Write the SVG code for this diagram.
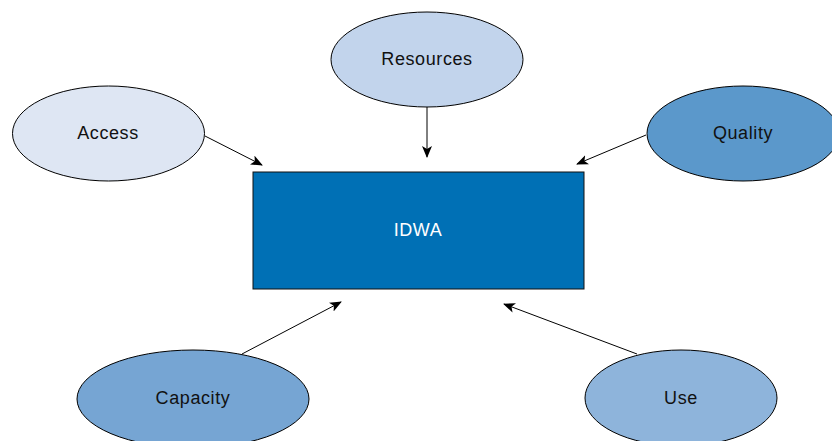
<svg xmlns="http://www.w3.org/2000/svg" width="832" height="441" viewBox="0 0 832 441">
<style>
.n ellipse{stroke:#000;stroke-width:1}
.t{font-family:"Liberation Sans",Arial,sans-serif;font-size:18px;letter-spacing:0.6px;text-anchor:middle;dominant-baseline:central;fill:#111}
.c line{stroke:#000;stroke-width:1;marker-end:url(#ah)}
</style>
<defs>
<marker id="ah" viewBox="0 0 12 10" refX="11" refY="5" markerWidth="12" markerHeight="10" markerUnits="userSpaceOnUse" orient="auto">
<path d="M0,0 L12,5 L0,10 L3,5 Z" fill="#000"/>
</marker>
</defs>
<rect width="832" height="441" fill="#fff"/>
<g class="c" id="connectors">
<line x1="205" y1="136" x2="262" y2="165"/>
<line x1="427" y1="107" x2="427" y2="157"/>
<line x1="646" y1="135" x2="577" y2="164"/>
<line x1="242" y1="354" x2="341" y2="302"/>
<line x1="637" y1="354" x2="504" y2="304"/>
</g>
<g id="idwa">
<rect x="253" y="172" width="331" height="117" fill="#0070B5" stroke="#111" stroke-width="1"/>
<text class="t" x="418" y="230" style="fill:#fff">IDWA</text>
</g>
<g id="access" class="n">
<ellipse cx="108.5" cy="133.5" rx="96" ry="47.5" fill="#DEE6F3"/>
<text class="t" x="108" y="133">Access</text>
</g>
<g id="resources" class="n">
<ellipse cx="427" cy="59.5" rx="96" ry="47.5" fill="#C2D4EC"/>
<text class="t" x="427" y="59">Resources</text>
</g>
<g id="quality" class="n">
<ellipse cx="743" cy="133.5" rx="96" ry="47.5" fill="#5B98CB"/>
<text class="t" x="743" y="133">Quality</text>
</g>
<g id="capacity" class="n">
<ellipse cx="193" cy="399" rx="116" ry="49" fill="#76A5D3"/>
<text class="t" x="193" y="398">Capacity</text>
</g>
<g id="use" class="n">
<ellipse cx="681" cy="398" rx="96" ry="48" fill="#8EB4DB"/>
<text class="t" x="681" y="398">Use</text>
</g>
</svg>
